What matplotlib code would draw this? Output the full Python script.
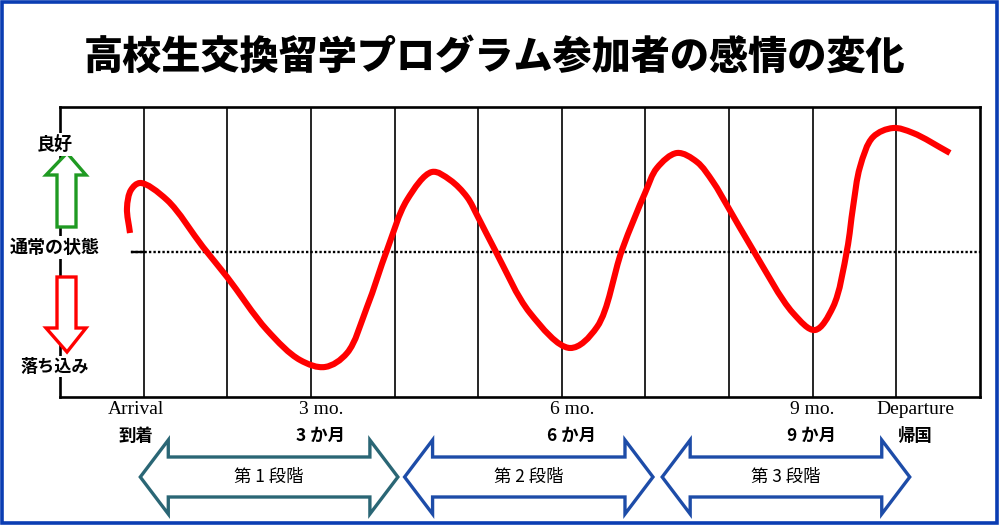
import numpy as np
import matplotlib
matplotlib.use("Agg")
import matplotlib.pyplot as plt
from matplotlib.path import Path
from matplotlib.patches import PathPatch, Polygon, Rectangle
from matplotlib.transforms import blended_transform_factory

plt.rcParams['font.family'] = ['Noto Sans CJK JP', 'DejaVu Sans']

# ---------------- data ----------------
title = "高校生交換留学プログラム参加者の感情の変化"

# emotional curve (x: grid columns from left frame, y: mood, 0 = normal state)
mood_x = [0.837, 0.801, 0.849, 0.957, 1.279, 1.710, 1.997, 2.475, 2.870, 3.169,
          3.432, 3.671, 3.910, 4.149, 4.448, 4.663, 4.867, 4.998, 5.213, 5.620,
          6.098, 6.421, 6.720, 6.995, 7.137, 7.378, 7.616, 7.808, 7.987, 8.286,
          8.764, 9.027, 9.243, 9.410, 9.482, 9.565, 9.721, 9.960, 10.199, 10.641]
mood_y = [0.131, 0.303, 0.428, 0.476, 0.359, 0.034, -0.172, -0.538, -0.745, -0.793,
          -0.697, -0.379, 0.014, 0.359, 0.552, 0.497, 0.379, 0.241, 0.000, -0.421,
          -0.662, -0.517, 0.014, 0.407, 0.579, 0.683, 0.621, 0.483, 0.310, 0.014,
          -0.421, -0.538, -0.379, 0.014, 0.310, 0.586, 0.793, 0.855, 0.821, 0.683]

grid_cols = 11
tick_pos = [0.91, 3.12, 6.12, 8.99, 10.23]
tick_en = ["Arrival", "3 mo.", "6 mo.", "9 mo.", "Departure"]
tick_ja = ["到着", "3 か月", "6 か月", "9 か月", "帰国"]

level_pos = [0.74, 0.03, -0.79]
level_labels = ["良好", "通常の状態", "落ち込み"]

phase_labels = ["第 1 段階", "第 2 段階", "第 3 段階"]
phase_start = [0.96, 4.12, 7.20]
phase_end = [4.04, 7.09, 10.16]
phase_colors = ["#2a6675", "#1d4ca8", "#1d4ca8"]

# ---------------- figure ----------------
W, H = 1000, 526
fig = plt.figure(figsize=(W / 100, H / 100), dpi=100)
fig.patch.set_facecolor("white")

ax_l, ax_r, ax_t, ax_b = 60, 980, 107, 397
ax = fig.add_axes([ax_l / W, 1 - ax_b / H, (ax_r - ax_l) / W, (ax_b - ax_t) / H])
ax.set_xlim(0, grid_cols)
ax.set_ylim(-1, 1)
ax.set_xticks([])
ax.set_yticks([])
for s in ax.spines.values():
    s.set_linewidth(1.9)
    s.set_color("black")
ax.set_zorder(1)

for c in range(1, grid_cols):
    ax.axvline(c, color="black", lw=1.2, zorder=1)

ax.plot([0.85, grid_cols], [0, 0], color="black", lw=1.7, ls=(0, (1, 0.9)), zorder=2)
ax.plot([0.86, 1.0], [0, 0], color="black", lw=1.7, zorder=2)

# smooth curve through the points (centripetal Catmull-Rom rendered as Bezier path)
sx = (ax_r - ax_l) / grid_cols
sy = (ax_b - ax_t) / 2.0
P = np.column_stack([np.array(mood_x) * sx, np.array(mood_y) * sy])
Pe = np.vstack([2 * P[0] - P[1], P, 2 * P[-1] - P[-2]])
verts = [tuple(P[0])]
codes = [Path.MOVETO]
for i in range(1, len(Pe) - 2):
    p0, p1, p2, p3 = Pe[i - 1], Pe[i], Pe[i + 1], Pe[i + 2]
    d0 = np.linalg.norm(p1 - p0) ** 0.5
    d1 = np.linalg.norm(p2 - p1) ** 0.5
    d2 = np.linalg.norm(p3 - p2) ** 0.5
    t1 = ((p1 - p0) / d0 - (p2 - p0) / (d0 + d1) + (p2 - p1) / d1) * d1
    t2 = ((p2 - p1) / d1 - (p3 - p1) / (d1 + d2) + (p3 - p2) / d2) * d1
    c1 = p1 + t1 / 3.0
    c2 = p2 - t2 / 3.0
    verts += [tuple(c1), tuple(c2), tuple(p2)]
    codes += [Path.CURVE4] * 3
verts = np.array(verts) / np.array([sx, sy])
ax.add_patch(PathPatch(Path(verts, codes), fill=False, edgecolor="#ff0000",
                       lw=4.4, capstyle="butt", joinstyle="round", zorder=3))

# ---------------- overlay (pixel coordinates) ----------------
ov = fig.add_axes([0, 0, 1, 1])
ov.set_xlim(0, W)
ov.set_ylim(H, 0)
ov.axis("off")
ov.patch.set_visible(False)
ov.set_zorder(2)

ov.text(495, 57, title, ha="center", va="center", fontsize=28.2,
        fontweight="heavy", color="black")

# blue frame
ov.add_patch(Rectangle((1.5, 1.5), 995, 521, fill=False, edgecolor="#0b3db3", lw=2.6))

# level labels on the left
ylab = blended_transform_factory(ov.transData, ax.transData)
for yp, lab in zip(level_pos, level_labels):
    ov.text(55, yp, lab, transform=ylab, ha="center", va="center",
            fontsize=13 if lab != "落ち込み" else 12.3, fontweight="bold",
            bbox=dict(boxstyle="square,pad=0.1", fc="white", ec="none"))

# hollow vertical arrows
up = [(67, 153), (86, 175), (76, 175), (76, 227), (57, 227), (57, 175), (46, 175)]
down = [(57, 277), (76, 277), (76, 328), (86, 328), (67, 352), (46, 328), (57, 328)]
ov.add_patch(Polygon(up, closed=True, fc="white", ec="#1f9a22", lw=2.4, joinstyle="miter"))
ov.add_patch(Polygon(down, closed=True, fc="white", ec="#ff0000", lw=2.4, joinstyle="miter"))

# x labels
xlab = blended_transform_factory(ax.transData, ov.transData)
for xp, en, ja in zip(tick_pos, tick_en, tick_ja):
    ov.text(xp, 410, en, transform=xlab, ha="center", va="center", fontsize=14,
            family=["Liberation Serif", "DejaVu Serif"])
    ov.text(xp, 436, ja, transform=xlab, ha="center", va="center", fontsize=12.5,
            fontweight="bold")

# phase double arrows
yc, sh, hh = 477, 20, 37
hl = 28 / sx
for x0, x1, col, lab in zip(phase_start, phase_end, phase_colors, phase_labels):
    pts = [(x0, yc), (x0 + hl, yc - hh), (x0 + hl, yc - sh), (x1 - hl, yc - sh),
           (x1 - hl, yc - hh), (x1, yc), (x1 - hl, yc + hh), (x1 - hl, yc + sh),
           (x0 + hl, yc + sh), (x0 + hl, yc + hh)]
    ov.add_patch(Polygon(pts, closed=True, transform=xlab, fc="white", ec=col,
                         lw=2.4, joinstyle="miter"))
    ov.text((x0 + x1) / 2, yc, lab, transform=xlab, ha="center", va="center",
            fontsize=12.5)

fig.savefig("out.png", dpi=100, facecolor="white")
